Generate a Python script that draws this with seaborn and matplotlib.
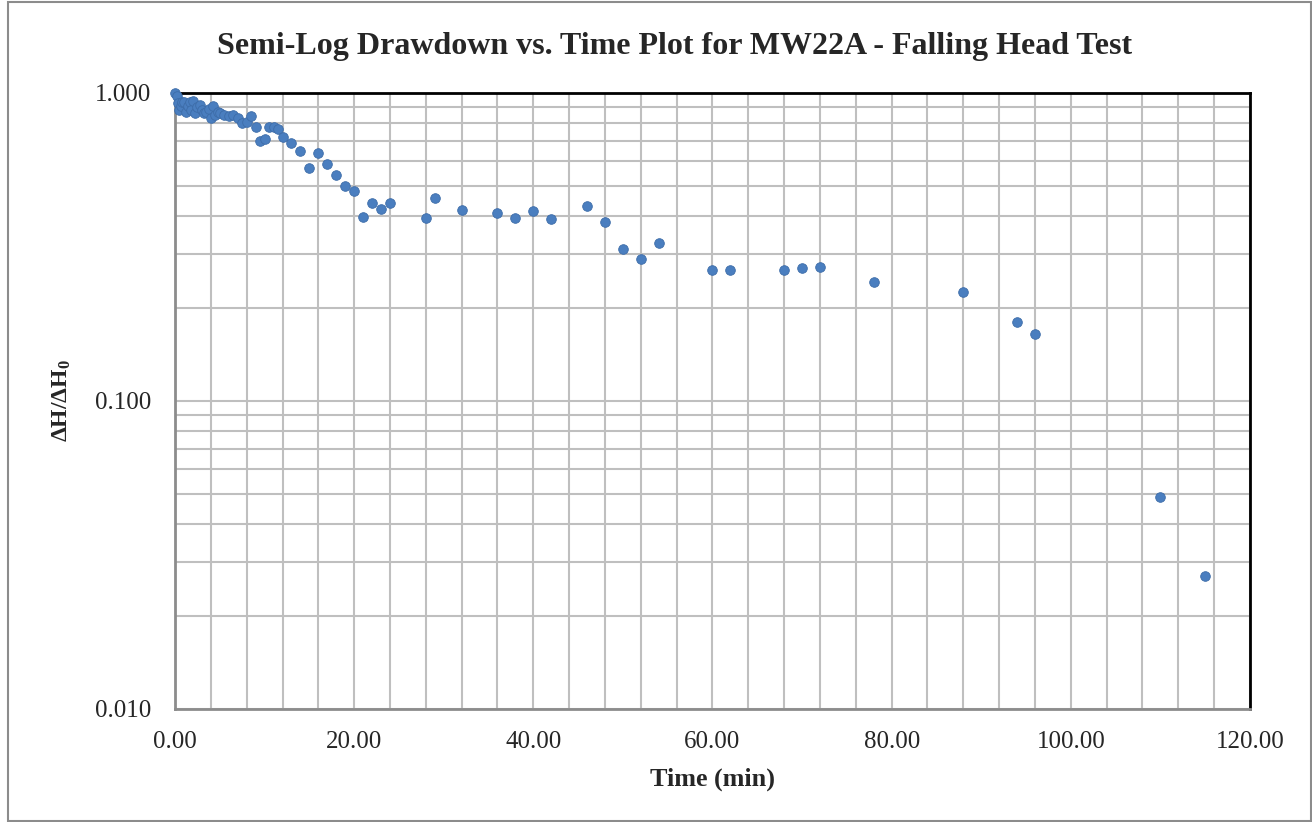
import numpy as np
import pandas as pd
import matplotlib
matplotlib.use("Agg")
import matplotlib.pyplot as plt
import matplotlib.ticker as mticker
from matplotlib.patches import Rectangle
import seaborn as sns

# Falling head test readings: elapsed time (min) and normalised head ratio
time_min = [0.00, 0.17, 0.33, 0.50, 0.67, 0.83, 1.00, 1.25, 1.50, 1.67, 1.83,
            2.00, 2.25, 2.50, 2.75, 3.00, 3.25, 3.50, 3.75, 4.00, 4.25, 4.50,
            4.75, 5.00, 5.50, 6.00, 6.50, 7.00, 7.50, 8.00, 8.50, 9.00, 9.50,
            10.00, 10.50, 11.00, 11.50, 12.00, 13.00, 14.00, 15.00, 16.00,
            17.00, 18.00, 19.00, 20.00, 21.00, 22.00, 23.00, 24.00, 28.00,
            29.00, 32.00, 36.00, 38.00, 40.00, 42.00, 46.00, 48.00, 50.00,
            52.00, 54.00, 60.00, 62.00, 68.00, 70.00, 72.00, 78.00, 88.00,
            94.00, 96.00, 110.00, 115.00]
head_ratio = [1.000, 0.975, 0.930, 0.880, 0.905, 0.935, 0.935, 0.870, 0.905,
              0.935, 0.880, 0.940, 0.860, 0.900, 0.915, 0.880, 0.860, 0.870,
              0.890, 0.830, 0.910, 0.850, 0.870, 0.860, 0.845, 0.840, 0.845,
              0.830, 0.800, 0.805, 0.840, 0.775, 0.700, 0.710, 0.775, 0.775,
              0.765, 0.720, 0.690, 0.650, 0.570, 0.640, 0.590, 0.540, 0.500,
              0.480, 0.395, 0.440, 0.420, 0.440, 0.393, 0.456, 0.417, 0.408,
              0.393, 0.414, 0.390, 0.430, 0.381, 0.312, 0.289, 0.326, 0.266,
              0.266, 0.266, 0.270, 0.272, 0.244, 0.226, 0.180, 0.165, 0.0488,
              0.0270]

x_ticks = [0, 20, 40, 60, 80, 100, 120]
y_ticks = [0.01, 0.1, 1.0]

df = pd.DataFrame({"Time (min)": time_min, "ratio": head_ratio})

sns.set_style("white")
plt.rcParams["font.family"] = ["Liberation Serif", "DejaVu Serif"]
plt.rcParams["mathtext.fontset"] = "custom"
plt.rcParams["mathtext.rm"] = "Liberation Serif"
plt.rcParams["mathtext.it"] = "Liberation Serif:italic"
plt.rcParams["mathtext.bf"] = "Liberation Serif:bold"

fig = plt.figure(figsize=(13.12, 8.22), dpi=100)
ax = fig.add_axes([0.1334, 0.1375, 0.8193, 0.7494])

grid_color = "#bfbfbf"
ax.set_yscale("log")
ax.set_xlim(0, 120)
ax.set_ylim(0.01, 1.0)

ax.xaxis.set_major_locator(mticker.FixedLocator(x_ticks))
ax.xaxis.set_minor_locator(mticker.MultipleLocator(4))
ax.yaxis.set_major_locator(mticker.FixedLocator(y_ticks))
ax.yaxis.set_minor_locator(mticker.LogLocator(base=10, subs=np.arange(2, 10)))
ax.yaxis.set_minor_formatter(mticker.NullFormatter())
ax.xaxis.set_major_formatter(mticker.FuncFormatter(lambda v, p: f"{v:.2f}"))
ax.yaxis.set_major_formatter(mticker.FuncFormatter(lambda v, p: f"{v:.3f}"))

ax.grid(True, which="both", axis="both", color=grid_color, linewidth=1.5)
ax.set_axisbelow(True)

sns.scatterplot(data=df, x="Time (min)", y="ratio", ax=ax, s=48,
                color="#4a7ebf", edgecolor="#3d6ca8", linewidth=0.6,
                zorder=3, clip_on=False)

for side in ("top", "right"):
    ax.spines[side].set_color("black")
    ax.spines[side].set_linewidth(2)
for side in ("left", "bottom"):
    ax.spines[side].set_color("#8c8c8c")
    ax.spines[side].set_linewidth(2)

ax.tick_params(axis="both", which="major", direction="out", length=6,
               width=1.5, color="#8c8c8c", labelsize=18)
ax.tick_params(axis="x", which="major", pad=10)
ax.tick_params(axis="y", which="major", pad=11)
ax.tick_params(axis="both", which="minor", length=0)

ax.set_xlabel("Time (min)", fontsize=18.8, fontweight="bold", labelpad=10)
ax.set_ylabel(r"$\mathbf{\Delta H/\Delta H_0}$", fontsize=17, labelpad=16)
ax.set_title("Semi-Log Drawdown vs. Time Plot for MW22A - Falling Head Test",
             fontsize=23, fontweight="bold", pad=28, x=0.465)

fig.add_artist(Rectangle((0.006, 0.001), 0.993, 0.997, transform=fig.transFigure,
                         fill=False, edgecolor="#8c8c8c", linewidth=1.5))

fig.savefig("out.png", dpi=100)
